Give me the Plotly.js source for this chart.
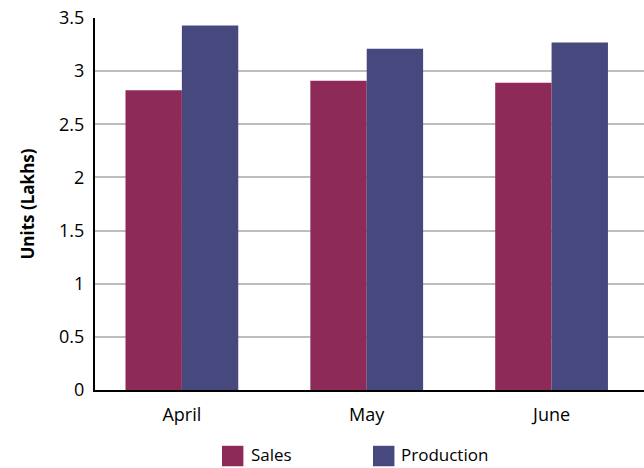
<!DOCTYPE html>
<html><head><meta charset="utf-8">
<script src="https://cdn.plot.ly/plotly-3.0.1.min.js"></script>
<style>html,body{margin:0;padding:0;background:#fff}#c{width:644px;height:468px}</style>
</head><body><div id="c"></div>
<script>
const months = ["April", "May", "June"];
const seriesNames = ["Sales", "Production"];
const sales = [2.82, 2.91, 2.89];
const production = [3.43, 3.21, 3.27];
const colors = ["#8E2A57", "#47487D"];
const yTicks = [0, 0.5, 1, 1.5, 2, 2.5, 3, 3.5];
const yTickText = ["0", "0.5", "1", "1.5", "2", "2.5", "3", "3.5"];

const FONT = "Open Sans, Noto Sans, sans-serif";
const traces = [
  {type: "bar", name: seriesNames[0], x: months, y: sales, marker: {color: colors[0]}, showlegend: false},
  {type: "bar", name: seriesNames[1], x: months, y: production, marker: {color: colors[1]}, showlegend: false}
];

// custom legend (larger swatches like the reference)
const legendSwatchX = [0.2313, 0.5064];
const legendTextX = [0.283, 0.556];
const shapes = seriesNames.map((n, i) => ({
  type: "rect", xref: "paper", yref: "paper",
  x0: legendSwatchX[i], x1: legendSwatchX[i] + 0.039, y0: -0.205, y1: -0.150,
  fillcolor: colors[i], line: {width: 0}
}));
const annotations = seriesNames.map((n, i) => ({
  xref: "paper", yref: "paper", x: legendTextX[i], y: -0.174,
  xanchor: "left", yanchor: "middle", text: n, showarrow: false, borderpad: 0,
  font: {family: FONT, size: 17, color: "#000"}
}));

const layout = {
  width: 644, height: 468,
  margin: {l: 95, r: 0, t: 18, b: 78},
  paper_bgcolor: "#fff", plot_bgcolor: "#fff",
  font: {family: FONT, size: 18, color: "#000"},
  barmode: "group", bargap: 0.39, bargroupgap: 0,
  showlegend: false,
  shapes: shapes, annotations: annotations,
  xaxis: {showline: true, linecolor: "#000", linewidth: 2, ticks: "", showgrid: false,
          tickfont: {size: 18}, range: [-0.47, 2.5], ticklabelstandoff: 7},
  yaxis: {range: [0, 3.5], tickvals: yTicks, ticktext: yTickText, showline: true,
          linecolor: "#000", linewidth: 2, showgrid: true, gridcolor: "#bdbdbd", gridwidth: 1.5,
          zeroline: false, ticks: "", ticklen: 0, tickfont: {size: 18}, ticklabelstandoff: 5,
          title: {text: "<b>Units (Lakhs)</b>", font: {size: 17}, standoff: 20}}
};
Plotly.newPlot("c", traces, layout, {displayModeBar: false});
</script></body></html>
